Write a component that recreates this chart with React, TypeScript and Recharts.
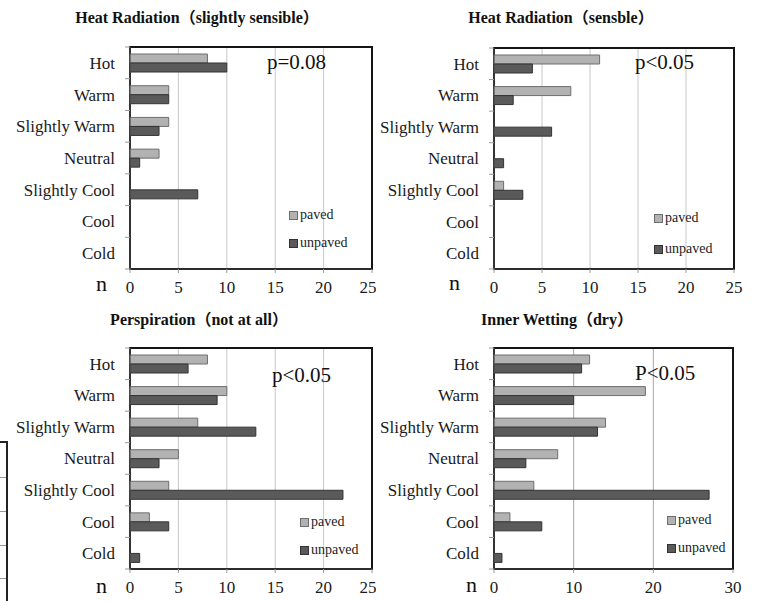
import React from 'react';
import { BarChart, Bar, XAxis, YAxis, CartesianGrid, ReferenceArea } from 'recharts';

const categories = ['Hot', 'Warm', 'Slightly Warm', 'Neutral', 'Slightly Cool', 'Cool', 'Cold'];

const heatSlightPaved = [8, 4, 4, 3, 0, 0, 0];
const heatSlightUnpaved = [10, 4, 3, 1, 7, 0, 0];
const heatSensPaved = [11, 8, 0, 0, 1, 0, 0];
const heatSensUnpaved = [4, 2, 6, 1, 3, 0, 0];
const perspPaved = [8, 10, 7, 5, 4, 2, 0];
const perspUnpaved = [6, 9, 13, 3, 22, 4, 1];
const wetPaved = [12, 19, 14, 8, 5, 2, 0];
const wetUnpaved = [11, 10, 13, 4, 27, 6, 1];

const ticks25 = [0, 5, 10, 15, 20, 25];
const ticks30 = [0, 10, 20, 30];

const titles = [
  'Heat Radiation（slightly sensible）',
  'Heat Radiation（sensble）',
  'Perspiration（not at all）',
  'Inner Wetting（dry）',
];
const pLabels = ['p=0.08', 'p<0.05', 'p<0.05', 'P<0.05'];
const seriesNames = ['paved', 'unpaved'];

const FONT = "'Liberation Serif', 'DejaVu Serif', 'Noto Sans CJK JP', serif";
const PAVED_FILL = '#b2b2b2';
const PAVED_STROKE = '#6e6e6e';
const UNPAVED_FILL = '#5a5a5a';
const UNPAVED_STROKE = '#333333';

type Geo = {
  left: number; top: number; width: number; height: number;
  plotLeft: number; plotRight: number; plotTop: number; plotBottom: number;
  titleX: number; titleY: number;
  pX: number; pY: number;
  legX: number; legY1: number; legY2: number;
  nX: number; nY: number;
};

const YTick = (props: any) => {
  const { x, y, payload, index, band } = props;
  const axisX = x + 15;
  return (
    <g>
      <line x1={axisX - 5} x2={axisX} y1={y - band / 2} y2={y - band / 2} stroke="#999" />
      {index === categories.length - 1 && (
        <line x1={axisX - 5} x2={axisX} y1={y + band / 2} y2={y + band / 2} stroke="#999" />
      )}
      <text x={x} y={y} dy="0.35em" textAnchor="end" fill="#1a1a1a" style={{ fontFamily: FONT, fontSize: 17 }}>
        {payload.value}
      </text>
    </g>
  );
};

const XTick = (props: any) => {
  const { x, y, payload } = props;
  return (
    <text x={x} y={y} dy="0.71em" textAnchor="middle" fill="#1a1a1a" style={{ fontFamily: FONT, fontSize: 17 }}>
      {payload.value}
    </text>
  );
};

function Panel({ title, pLabel, paved, unpaved, xMax, ticks, geo, gridColor }: {
  title: string; pLabel: string; paved: number[]; unpaved: number[];
  xMax: number; ticks: number[]; geo: Geo; gridColor: string;
}) {
  const data = categories.map((c, i) => ({ cat: c, paved: paved[i], unpaved: unpaved[i] }));
  const yAxisWidth = geo.plotLeft - geo.left;
  const mRight = geo.left + geo.width - geo.plotRight;
  const mTop = geo.plotTop - geo.top;
  const xAxisH = 30;
  const mBottom = geo.top + geo.height - geo.plotBottom - xAxisH;
  const band = (geo.plotBottom - geo.plotTop) / categories.length;
  return (
    <div style={{ position: 'absolute', left: geo.left, top: geo.top, width: geo.width, height: geo.height }}>
      <BarChart
        width={geo.width}
        height={geo.height}
        data={data}
        layout="vertical"
        margin={{ top: mTop, right: mRight, bottom: mBottom, left: 0 }}
        barGap={0}
        barSize={9}
      >
        <CartesianGrid horizontal={false} vertical={true} stroke={gridColor} />
        <XAxis
          type="number"
          domain={[0, xMax]}
          ticks={ticks}
          height={xAxisH}
          tickSize={4}
          tickMargin={8}
          axisLine={{ stroke: '#444' }}
          tickLine={{ stroke: '#999' }}
          tick={(p: any) => <XTick {...p} />}
        />
        <YAxis
          type="category"
          dataKey="cat"
          width={yAxisWidth}
          tickSize={0}
          tickMargin={15}
          interval={0}
          axisLine={{ stroke: '#555' }}
          tick={(p: any) => <YTick {...p} band={band} />}
        />
        <ReferenceArea x1={0} x2={xMax} fill="none" stroke="#151515" strokeWidth={2} ifOverflow="visible" />
        <Bar dataKey="paved" name={seriesNames[0]} fill={PAVED_FILL} stroke={PAVED_STROKE} strokeWidth={1} isAnimationActive={false} />
        <Bar dataKey="unpaved" name={seriesNames[1]} fill={UNPAVED_FILL} stroke={UNPAVED_STROKE} strokeWidth={1} isAnimationActive={false} />
      </BarChart>
      <div style={{
        position: 'absolute', left: geo.titleX - geo.left - 170, top: geo.titleY - geo.top - 11, width: 340,
        textAlign: 'center', fontFamily: FONT, fontWeight: 'bold', fontSize: 16, lineHeight: '22px', color: '#111',
      }}>{title}</div>
      <div style={{
        position: 'absolute', left: geo.pX - geo.left, top: geo.pY - geo.top - 13, fontFamily: FONT,
        fontSize: 21, lineHeight: '26px', color: '#111', whiteSpace: 'nowrap',
      }}>{pLabel}</div>
      <div style={{
        position: 'absolute', left: geo.nX - geo.left, top: geo.nY - geo.top - 15, fontFamily: FONT,
        fontSize: 22, lineHeight: '26px', color: '#111',
      }}>n</div>
      {[0, 1].map((k) => (
        <div key={k} style={{
          position: 'absolute', left: geo.legX - geo.left, top: (k === 0 ? geo.legY1 : geo.legY2) - geo.top - 8,
          height: 16, display: 'flex', alignItems: 'center', fontFamily: FONT, fontSize: 14, color: '#222', whiteSpace: 'nowrap',
        }}>
          <span style={{
            display: 'inline-block', width: 7, height: 7, marginRight: 2,
            background: k === 0 ? PAVED_FILL : UNPAVED_FILL,
            border: `1px solid ${k === 0 ? PAVED_STROKE : UNPAVED_STROKE}`,
          }} />
          {seriesNames[k]}
        </div>
      ))}
    </div>
  );
}

const geos: Geo[] = [
  { left: 0, top: 0, width: 376, height: 300, plotLeft: 130, plotRight: 372, plotTop: 47, plotBottom: 269,
    titleX: 197, titleY: 18, pX: 267, pY: 62, legX: 289, legY1: 215, legY2: 243, nX: 96, nY: 286 },
  { left: 370, top: 0, width: 387, height: 300, plotLeft: 494, plotRight: 734, plotTop: 48, plotBottom: 269,
    titleX: 561, titleY: 18, pX: 635, pY: 62, legX: 654, legY1: 218, legY2: 249, nX: 449, nY: 285 },
  { left: 0, top: 300, width: 376, height: 301, plotLeft: 130, plotRight: 372, plotTop: 348, plotBottom: 569,
    titleX: 199, titleY: 320, pX: 272, pY: 375, legX: 300, legY1: 522, legY2: 550, nX: 96, nY: 588 },
  { left: 370, top: 300, width: 387, height: 301, plotLeft: 494, plotRight: 733, plotTop: 348, plotBottom: 569,
    titleX: 557, titleY: 320, pX: 635, pY: 373, legX: 667, legY1: 520, legY2: 548, nX: 466, nY: 587 },
];

export default function App() {
  return (
    <div style={{ position: 'absolute', left: 0, top: 0, width: 757, height: 601, background: '#fff', overflow: 'hidden' }}>
      {/* fragment of a neighbouring table at the left edge */}
      <div style={{ position: 'absolute', left: 0, top: 441, width: 6, height: 170, borderTop: '2px solid #222', borderRight: '2px solid #222' }}>
        {[34, 68, 102, 135].map((d) => (
          <div key={d} style={{ position: 'absolute', left: 0, top: d, width: 6, height: 1, background: '#999' }} />
        ))}
      </div>
      <Panel title={titles[0]} pLabel={pLabels[0]} paved={heatSlightPaved} unpaved={heatSlightUnpaved} xMax={25} ticks={ticks25} geo={geos[0]} gridColor="#c8c8c8" />
      <Panel title={titles[1]} pLabel={pLabels[1]} paved={heatSensPaved} unpaved={heatSensUnpaved} xMax={25} ticks={ticks25} geo={geos[1]} gridColor="#c8c8c8" />
      <Panel title={titles[2]} pLabel={pLabels[2]} paved={perspPaved} unpaved={perspUnpaved} xMax={25} ticks={ticks25} geo={geos[2]} gridColor="#c8c8c8" />
      <Panel title={titles[3]} pLabel={pLabels[3]} paved={wetPaved} unpaved={wetUnpaved} xMax={30} ticks={ticks30} geo={geos[3]} gridColor="#a8a8a8" />
    </div>
  );
}
